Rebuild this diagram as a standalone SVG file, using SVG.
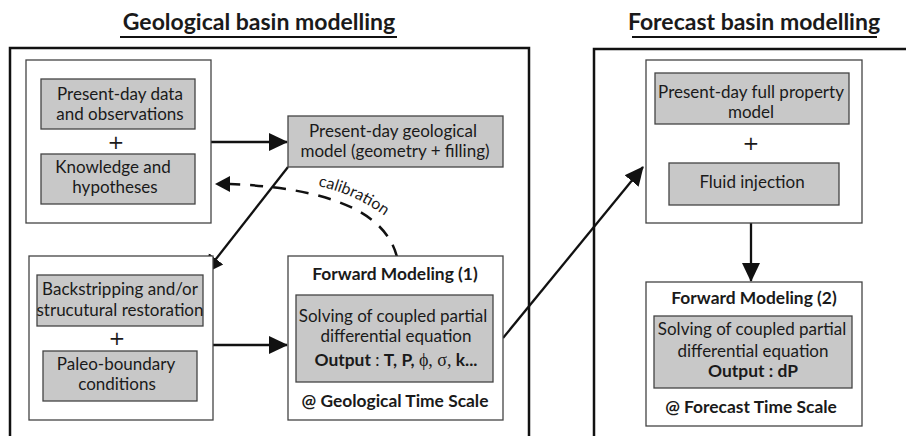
<svg xmlns="http://www.w3.org/2000/svg" width="906" height="436" viewBox="0 0 906 436">
<defs>
<style>
text{font-family:Lato,"Noto Sans","Liberation Sans",sans-serif;font-size:17px;fill:#1a1a1a;text-anchor:middle}
.title{font-size:23px;font-weight:bold}
.b{font-weight:bold;font-size:17.4px}
.plus{font-family:"DejaVu Sans","Liberation Sans",sans-serif;font-size:20px;font-weight:normal}
.frame{fill:none;stroke:#111;stroke-width:2.5}
.box{fill:#fff;stroke:#444;stroke-width:1.3}
.gray{fill:#c8c8c8;stroke:#444;stroke-width:1.3}
.conn{fill:none;stroke:#111;stroke-width:2.3}
.dash{fill:none;stroke:#111;stroke-width:2.5;stroke-dasharray:13 10}
.greek{font-family:"Liberation Serif","DejaVu Serif",serif;font-size:18px;font-weight:normal}
</style>
<marker id="arr" markerUnits="userSpaceOnUse" markerWidth="20" markerHeight="20" viewBox="0 0 20 20" refX="18" refY="10" orient="auto">
<path d="M0 1 L19 10 L0 19 Z" fill="#111"/>
</marker>
</defs>
<rect width="906" height="436" fill="#fff"/>

<g id="titles">
<text class="title" x="259" y="30">Geological basin modelling</text>
<line x1="120" y1="37" x2="397" y2="37" stroke="#111" stroke-width="2.2"/>
<text class="title" x="754" y="30">Forecast basin modelling</text>
<line x1="632" y1="37" x2="877" y2="37" stroke="#111" stroke-width="2.2"/>
</g>

<g id="frames">
<path class="frame" d="M10 440 V48 H529 V440"/>
<path class="frame" d="M594 440 V49 H910"/>
</g>

<g id="connectors">
<line class="conn" x1="211" y1="142" x2="287" y2="142" marker-end="url(#arr)"/>
<line class="conn" x1="288" y1="167" x2="205" y2="273" marker-end="url(#arr)"/>
<line class="conn" x1="213" y1="345" x2="287" y2="345" marker-end="url(#arr)"/>
<line class="conn" x1="503" y1="338" x2="643" y2="167" marker-end="url(#arr)"/>
<line class="conn" x1="751" y1="223" x2="751" y2="281" marker-end="url(#arr)"/>
<path class="dash" d="M397 257 Q380 190 230 184"/>
<path d="M215 184 L230 176 L230 192 Z" fill="#111"/>
<path id="calpath" d="M318 186 Q365 196 402 230" fill="none"/>
<text style="text-anchor:start;font-size:16px"><textPath href="#calpath">calibration</textPath></text>
</g>

<g id="inputs-geo">
<rect class="box" x="26" y="60" width="185" height="163"/>
<rect class="gray" x="41" y="79" width="154" height="50"/>
<text x="120" y="100">Present-day data</text>
<text x="120" y="120">and observations</text>
<text class="plus" x="116" y="149">+</text>
<rect class="gray" x="41" y="154" width="154" height="50"/>
<text x="113" y="173">Knowledge and</text>
<text x="115" y="193">hypotheses</text>
</g>

<g id="geo-model">
<rect class="gray" x="288" y="116" width="215" height="51"/>
<text x="393" y="137">Present-day geological</text>
<text x="395" y="157">model (geometry + filling)</text>
</g>

<g id="inputs-paleo">
<rect class="box" x="29" y="256" width="184" height="164"/>
<rect class="gray" x="37" y="275" width="166" height="51"/>
<text x="120" y="295">Backstripping and/or</text>
<text x="120" y="316">strucutural restoration</text>
<text class="plus" x="117" y="345">+</text>
<rect class="gray" x="43" y="351" width="154" height="50"/>
<text x="116" y="370">Paleo-boundary</text>
<text x="117" y="390">conditions</text>
</g>

<g id="forward-1">
<rect class="box" x="288" y="256" width="215" height="164"/>
<text class="b" x="395" y="280">Forward Modeling (1)</text>
<rect class="gray" x="296" y="295" width="197" height="87"/>
<text x="393" y="322">Solving of coupled partial</text>
<text x="396" y="342">differential equation</text>
<text x="396" y="366"><tspan class="b">Output</tspan> : <tspan class="b">T, P, </tspan><tspan class="greek">ϕ, σ,</tspan><tspan class="b"> k...</tspan></text>
<text class="b" x="395" y="407">@ Geological Time Scale</text>
</g>

<g id="inputs-forecast">
<rect class="box" x="646" y="60" width="216" height="163"/>
<rect class="gray" x="655" y="73" width="194" height="51"/>
<text x="751" y="98">Present-day full property</text>
<text x="751" y="118">model</text>
<text class="plus" x="751" y="150">+</text>
<rect class="gray" x="669" y="163" width="170" height="42"/>
<text x="752" y="188">Fluid injection</text>
</g>

<g id="forward-2">
<rect class="box" x="646" y="282" width="216" height="144"/>
<text class="b" x="754" y="304">Forward Modeling (2)</text>
<rect class="gray" x="654" y="316" width="198" height="72"/>
<text x="752" y="335">Solving of coupled partial</text>
<text x="753" y="357">differential equation</text>
<text class="b" x="753" y="377">Output : dP</text>
<text class="b" x="751" y="413">@ Forecast Time Scale</text>
</g>
</svg>
